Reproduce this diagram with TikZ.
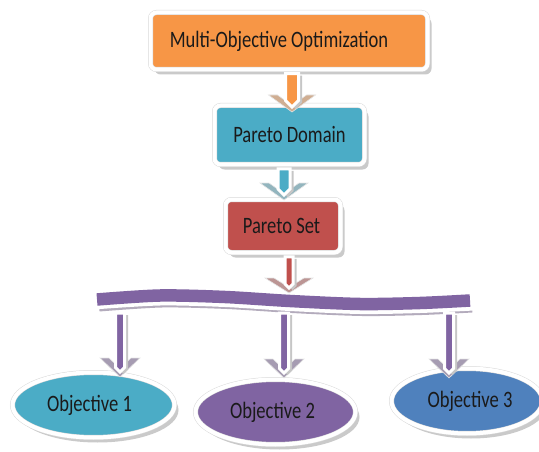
\documentclass[tikz,border=0pt]{standalone}
\usepackage{fontspec}
\setmainfont{Carlito}[FakeStretch=0.79]
\usetikzlibrary{calc,shapes.geometric,shadows}

\definecolor{moorange}{HTML}{F79646}
\definecolor{mocyan}{HTML}{4BACC6}
\definecolor{mored}{HTML}{C0504D}
\definecolor{mopurple}{HTML}{8064A2}
\definecolor{moblue}{HTML}{4F81BD}
\definecolor{motext}{HTML}{1A1A1A}

\tikzset{
  framed/.style={draw=gray!30, double=white, double distance=4pt, line width=0.5pt,
    text=motext, font=\fontsize{23.5}{28}\selectfont, inner sep=0pt,
    drop shadow={shadow xshift=4pt, shadow yshift=-5pt, fill=gray!70, opacity=0.6}},
  box/.style={framed, rectangle, rounded corners=6pt},
  goal/.style={framed, ellipse},
}

% stem of a block arrow, shifted by (#4,#5)
\newcommand{\stempath}[5]{($(#1)+({-#3+#4},{#5+4})$) -- ($(#1)+({#3+#4},{#5+4})$)
  -- ($(#2)+({#3+#4},{-5-#3+#5})$) -- ($(#2)+(#4,{-5+#5})$)
  -- ($(#2)+({-#3+#4},{-5-#3+#5})$) -- cycle}

% colour, from, tip, stem half width, head half width, head height
\newcommand{\blockarr}[6]{%
  \path (#2 -| #3) coordinate (as);
  \filldraw[fill=#1!50!gray!70!white, draw=gray!20, line width=0.6pt]
    ($(#3)+(-#5,-#6)$) -- (#3) -- ($(#3)+(#5,-#6)$) -- ($(#3)+({#5-9},-#6)$)
    -- ($(#3)+(0,{-#6*9/#5})$) -- ($(#3)+({-#5+9},-#6)$) -- cycle;
  \fill[gray!45] \stempath{as}{#3}{#4}{3.5}{2};
  \filldraw[fill=#1, draw=white, line width=3pt] \stempath{as}{#3}{#4}{0}{0};
}

\begin{document}
\begin{tikzpicture}[x=1pt, y=-1pt]
\useasboundingbox (0,0) rectangle (539,452);

\node[box, fill=moorange, minimum width=277pt, minimum height=57pt] (opt) at (289,41) {Multi-Objective Optimization\hspace*{20pt}};
\node[box, fill=mocyan, minimum width=150pt, minimum height=59pt] (dom) at (289.5,135) {Pareto Domain};
\node[box, fill=mored, minimum width=115pt, minimum height=53pt] (set) at (283,226) {Pareto Set\hspace*{3pt}};

\node[goal, fill=mocyan, minimum width=162pt, minimum height=65pt] (obj1) at (93.5,405) {Objective 1\hspace*{8pt}};
\node[goal, fill=mopurple, minimum width=160pt, minimum height=65pt] (obj2) at (275.5,412) {Objective 2\hspace*{6pt}};
\node[goal, fill=moblue, minimum width=151pt, minimum height=65pt] (obj3) at (467,401) {\hspace*{6pt}Objective 3};

\draw[line width=14pt, gray!55!mopurple!60!white, shift={(2,5)}] plot[smooth] coordinates {(97,299.5) (160,295.5) (225,297) (290,301) (360,304) (420,303) (470,300.5)};
\draw[line width=20pt, white] plot[smooth] coordinates {(93,299.5) (160,295.5) (225,297) (290,301) (360,304) (420,303) (474,300.5)};
\draw[line width=12.5pt, mopurple] plot[smooth] coordinates {(97,299.5) (160,295.5) (225,297) (290,301) (360,304) (420,303) (470,300.5)};

\coordinate (t1) at (292,112);
\coordinate (t2) at (284,200);
\coordinate (t3) at (289,293);
\coordinate (b1) at (120,309);
\coordinate (b2) at (284,309);
\coordinate (b3) at (449,309);
\coordinate (e1) at (120,377);
\coordinate (e2) at (284,378);
\coordinate (e3) at (449,378);

\blockarr{moorange}{opt.south}{t1}{6.5}{23.5}{17}
\blockarr{mocyan}{dom.south}{t2}{6}{24}{17}
\blockarr{mored}{set.south}{t3}{4}{24}{15}
\blockarr{mopurple}{b1}{e1}{4.5}{20}{19}
\blockarr{mopurple}{b2}{e2}{4.5}{20}{19}
\blockarr{mopurple}{b3}{e3}{4.5}{20}{19}
\end{tikzpicture}
\end{document}
